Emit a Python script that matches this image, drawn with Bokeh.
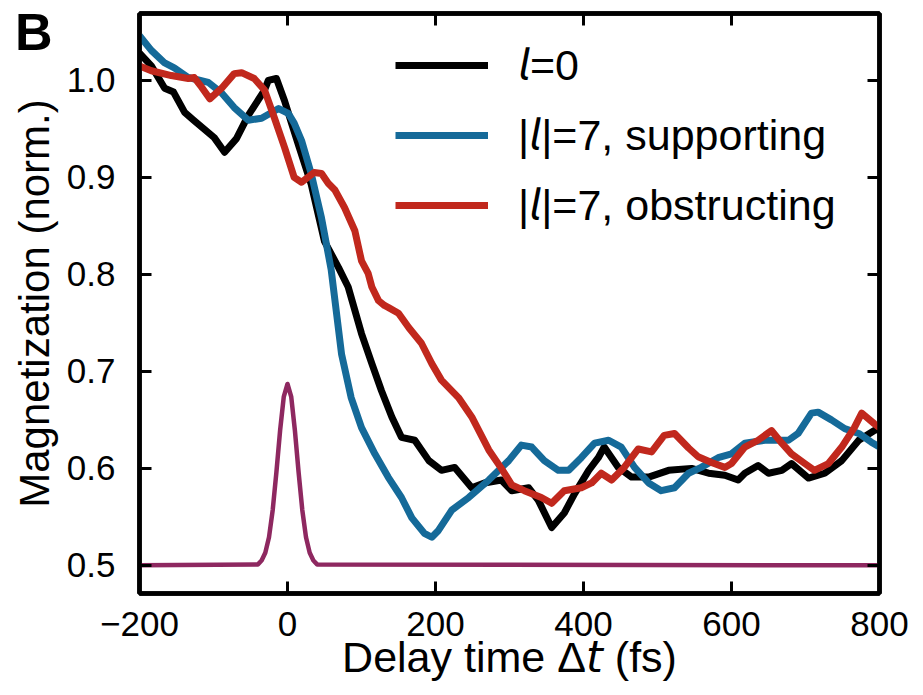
from bokeh.plotting import figure
from bokeh.models import (Range1d, FixedTicker, LinearAxis, Legend, LegendItem)
from bokeh.embed import file_html
from bokeh.resources import INLINE

# ---------------- data ----------------
x_black = [-200, -184, -166, -154, -139, -127, -99, -85, -69, -53, -31, -26, -15, -4, 5, 15,
           32, 50, 69, 82, 100, 114, 127, 141, 154, 172, 191, 208, 226, 249, 266, 289, 303,
           326, 339, 357, 374, 388, 407, 420, 428, 447, 465, 488, 515, 546, 569, 591, 609,
           618, 636, 650, 668, 681, 704, 726, 749, 772, 793, 800]
y_black = [1.028, 1.015, 0.992, 0.988, 0.967, 0.959, 0.941, 0.926, 0.940, 0.964, 0.990, 1.000,
           1.002, 0.979, 0.957, 0.933, 0.893, 0.834, 0.807, 0.787, 0.739, 0.708, 0.680, 0.653,
           0.632, 0.629, 0.608, 0.598, 0.601, 0.580, 0.585, 0.588, 0.577, 0.580, 0.567, 0.539,
           0.554, 0.574, 0.598, 0.611, 0.622, 0.601, 0.591, 0.591, 0.598, 0.600, 0.595, 0.593,
           0.588, 0.595, 0.603, 0.595, 0.598, 0.605, 0.590, 0.595, 0.608, 0.629, 0.639, 0.641]

x_blue = [-200, -184, -166, -153, -134, -107, -89, -72, -53, -35, -12, 1, 9, 19, 32, 46, 59,
          73, 86, 100, 118, 136, 154, 168, 185, 195, 204, 222, 245, 272, 299, 316, 330, 347,
          366, 380, 397, 415, 434, 451, 469, 488, 505, 523, 542, 559, 582, 600, 618, 645,
          677, 690, 708, 717, 735, 753, 772, 789, 800]
y_blue = [1.046, 1.031, 1.018, 1.013, 1.003, 0.998, 0.987, 0.972, 0.959, 0.961, 0.971, 0.966,
          0.956, 0.938, 0.904, 0.858, 0.805, 0.718, 0.673, 0.642, 0.615, 0.591, 0.570, 0.549,
          0.533, 0.529, 0.536, 0.557, 0.570, 0.588, 0.608, 0.624, 0.622, 0.608, 0.598, 0.598,
          0.611, 0.626, 0.629, 0.622, 0.601, 0.585, 0.577, 0.580, 0.595, 0.601, 0.611, 0.615,
          0.626, 0.629, 0.629, 0.636, 0.657, 0.658, 0.650, 0.641, 0.636, 0.627, 0.622]

x_red = [-200, -184, -157, -134, -126, -116, -105, -89, -72, -62, -45, -31, -18, -4, 9, 19,
         36, 46, 55, 64, 77, 91, 100, 109, 114, 123, 131, 136, 150, 164, 181, 195, 208, 231,
         249, 272, 289, 303, 320, 343, 357, 374, 397, 411, 424, 438, 455, 474, 492, 509, 523,
         542, 555, 573, 591, 600, 618, 636, 654, 668, 681, 699, 712, 731, 749, 766, 776, 793, 800]
y_red = [1.015, 1.010, 1.005, 1.002, 1.003, 0.993, 0.981, 0.992, 1.007, 1.008, 1.002, 0.990,
         0.962, 0.931, 0.900, 0.895, 0.905, 0.904, 0.894, 0.887, 0.869, 0.845, 0.814, 0.801,
         0.787, 0.773, 0.768, 0.766, 0.760, 0.745, 0.729, 0.708, 0.691, 0.673, 0.653, 0.619,
         0.600, 0.583, 0.577, 0.570, 0.564, 0.577, 0.580, 0.585, 0.595, 0.588, 0.601, 0.620,
         0.617, 0.634, 0.636, 0.621, 0.612, 0.606, 0.601, 0.605, 0.622, 0.629, 0.639, 0.626,
         0.615, 0.605, 0.598, 0.605, 0.622, 0.642, 0.657, 0.646, 0.642]

x_pulse = [-200, -40, -35, -30, -25, -20, -15, -10, -5, 0, 5, 10, 15, 20, 25, 30, 35, 40, 800]
y_pulse = [0.500, 0.501, 0.505, 0.513, 0.529, 0.557, 0.596, 0.639, 0.674, 0.687, 0.674,
           0.639, 0.596, 0.557, 0.529, 0.513, 0.505, 0.501, 0.500]

# italic l / t written with Unicode mathematical sans-serif italic letters
labels = ["\U0001D62D=0", "|\U0001D62D|=7, supporting", "|\U0001D62D|=7, obstructing"]
x_title = "Delay time \u0394\U0001D635 (fs)"
y_title = "Magnetization (norm.)"
panel_letter = "B"
x_ticks = [-200, 0, 200, 400, 600, 800]
x_tick_labels = ["\u2212200", "0", "200", "400", "600", "800"]
y_ticks = [0.5, 0.6, 0.7, 0.8, 0.9, 1.0]
y_tick_labels = ["0.5", "0.6", "0.7", "0.8", "0.9", "1.0"]

# ---------------- styling ----------------
FONT = "Liberation Sans"
C_BLACK = "#000000"
C_BLUE = "#156a99"
C_RED = "#c1281d"
C_PULSE = "#8e2860"
LETTER_POS = 1.055   # vertical placement of the panel letter (styling only)

p = figure(width=923, height=695, output_backend="svg", toolbar_location=None,
           x_range=Range1d(-200, 800), y_range=Range1d(0.471, 1.069),
           min_border_left=139, min_border_right=44, min_border_top=13, min_border_bottom=102)
p.background_fill_color = "white"
p.border_fill_color = "white"
p.outline_line_color = "black"
p.outline_line_width = 4.5
p.grid.visible = False

def style_axis(ax, ticks, tick_labels, show_labels):
    ax.ticker = FixedTicker(ticks=ticks)
    ax.major_tick_in = 12
    ax.major_tick_out = 0
    ax.minor_tick_line_color = None
    ax.major_tick_line_width = 3
    ax.major_tick_line_color = "black"
    ax.axis_line_width = 4.5
    ax.axis_line_color = "black"
    ax.major_label_text_font = FONT
    if show_labels:
        ax.major_label_overrides = {t: l for t, l in zip(ticks, tick_labels)}
        ax.major_label_text_color = "black"
    else:
        ax.major_label_overrides = {t: "" for t in ticks}
        ax.major_label_text_color = None
        ax.major_label_text_font_size = "10px"
        ax.major_label_standoff = 0

xa = p.xaxis[0]
ya = p.yaxis[0]
style_axis(xa, x_ticks, x_tick_labels, True)
style_axis(ya, y_ticks, y_tick_labels, True)
xa.major_label_text_font_size = "35px"
ya.major_label_text_font_size = "35px"
xa.major_label_standoff = 18
ya.major_label_standoff = 24
xa.axis_label = x_title
xa.axis_label_text_font = FONT
xa.axis_label_text_font_style = "normal"
xa.axis_label_text_color = "black"
xa.axis_label_text_font_size = "43px"
xa.axis_label_standoff = -6

# outer left axis: carries the panel letter (as its only tick label) and the y title
outer = LinearAxis(ticker=FixedTicker(ticks=[LETTER_POS]),
                   major_label_overrides={LETTER_POS: panel_letter})
outer.axis_line_color = None
outer.major_tick_line_color = None
outer.minor_tick_line_color = None
outer.major_tick_in = 0
outer.major_tick_out = 0
outer.major_label_standoff = 11
outer.major_label_text_font = FONT
outer.major_label_text_font_size = "52px"
outer.major_label_text_font_style = "bold"
outer.major_label_text_color = "black"
outer.axis_label = y_title
outer.axis_label_text_font = FONT
outer.axis_label_text_font_style = "normal"
outer.axis_label_text_color = "black"
outer.axis_label_text_font_size = "42px"
outer.axis_label_standoff = -46
p.add_layout(outer, "left")

top_ax = LinearAxis()
right_ax = LinearAxis()
style_axis(top_ax, x_ticks, x_tick_labels, False)
style_axis(right_ax, y_ticks, y_tick_labels, False)
p.add_layout(top_ax, "above")
p.add_layout(right_ax, "right")

# ---------------- data lines ----------------
p.line(x_pulse, y_pulse, line_color=C_PULSE, line_width=4.5, line_join="round")
r_black = p.line(x_black, y_black, line_color=C_BLACK, line_width=7, line_join="round")
r_blue = p.line(x_blue, y_blue, line_color=C_BLUE, line_width=7, line_join="round")
r_red = p.line(x_red, y_red, line_color=C_RED, line_width=7, line_join="round")

legend = Legend(items=[LegendItem(label=labels[0], renderers=[r_black]),
                       LegendItem(label=labels[1], renderers=[r_blue]),
                       LegendItem(label=labels[2], renderers=[r_red])],
                location=(256, 363), orientation="vertical",
                glyph_width=93, glyph_height=48, label_height=48, spacing=20,
                label_standoff=30, padding=0, margin=0,
                border_line_color=None, background_fill_alpha=0,
                label_text_font=FONT, label_text_font_size="43px",
                label_text_color="black")
p.add_layout(legend, "center")

open("out.html", "w").write(file_html(p, INLINE))
